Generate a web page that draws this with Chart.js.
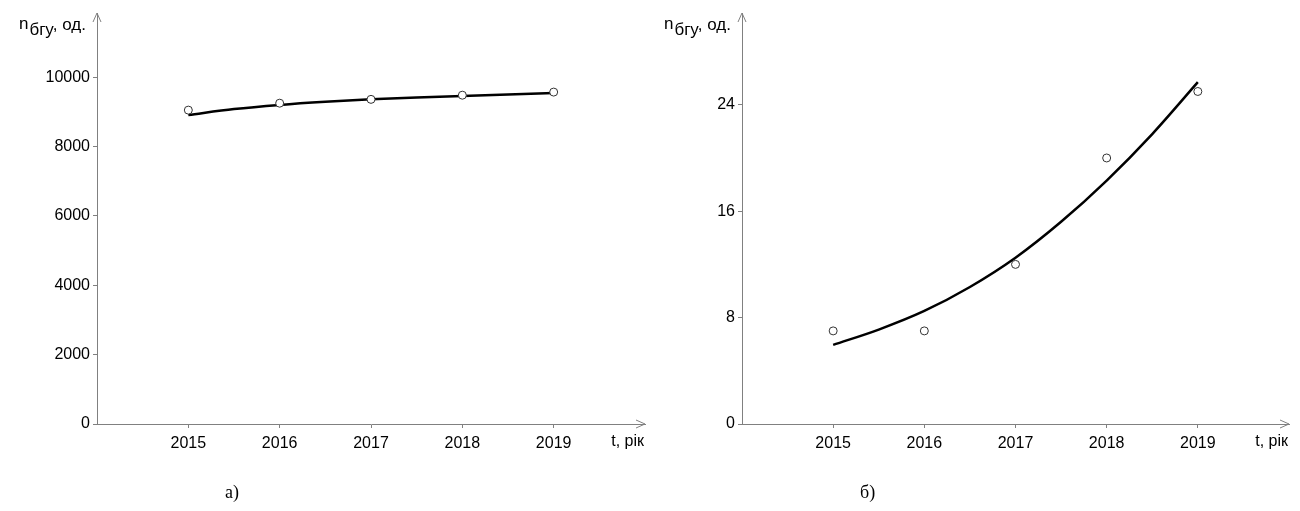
<!DOCTYPE html>
<html>
<head>
<meta charset="utf-8">
<script src="https://cdn.jsdelivr.net/npm/chart.js@4"></script>
<style>
  body { margin: 0; background: #fff; }
  .box { position: absolute; top: 0; width: 650px; height: 511px; }
  .cap { position: absolute; top: 482px; font: 18px "Liberation Serif", "Times New Roman", serif; color: #000; }
</style>
</head>
<body>
<div class="box" style="left:0"><canvas id="chartA"></canvas></div>
<div class="box" style="left:650px"><canvas id="chartB"></canvas></div>
<div class="cap" style="left:225px">а)</div>
<div class="cap" style="left:860px">б)</div>
<script>
const years = [2015, 2016, 2017, 2018, 2019];

// a) points and trend line
const unitsA = [9050, 9250, 9360, 9480, 9570];
const trendYears = [2015, 2015.5, 2016, 2016.5, 2017, 2017.5, 2018, 2018.5, 2019];
const trendA = [8910, 9080, 9200, 9290, 9360, 9415, 9460, 9500, 9540];
const yTicksA = [0, 2000, 4000, 6000, 8000, 10000];

// б) points and trend line
const unitsB = [7, 7, 12, 20, 25];
const trendB = [5.95, 7.1, 8.5, 10.3, 12.5, 15.2, 18.3, 21.8, 25.7];
const yTicksB = [0, 8, 16, 24];

const AXIS = "#808080";
const FONT = "'Liberation Sans', Arial, sans-serif";

const axesDecor = {
  id: "axesDecor",
  afterDraw(chart) {
    const c = chart.ctx, a = chart.chartArea;
    c.save();
    c.strokeStyle = AXIS;
    c.lineWidth = 1;
    c.beginPath();
    c.moveTo(a.left - 4, a.top + 9); c.lineTo(a.left, a.top); c.lineTo(a.left + 4, a.top + 9);
    c.moveTo(a.right - 9, a.bottom - 4); c.lineTo(a.right, a.bottom); c.lineTo(a.right - 9, a.bottom + 4);
    c.stroke();

    // axis titles
    c.fillStyle = "#000";
    c.font = "17px " + FONT;
    c.textBaseline = "alphabetic";
    const w1 = c.measureText("n").width;
    const w2 = c.measureText("бгу").width;
    const w3 = c.measureText(", од.").width;
    let x = a.left - 10 - (w1 + w2 + w3 + 1);
    c.fillText("n", x, 29);
    c.fillText("бгу", x + w1 + 1, 35);
    c.fillText(", од.", x + w1 + w2, 30);

    c.font = "16px " + FONT;
    c.textAlign = "right";
    c.fillText("t, рік", a.right - 1, a.bottom + 22);
    c.restore();
  }
};

function makeChart(id, units, trend, yTicks, yMax, leftW, padRight) {
  return new Chart(document.getElementById(id), {
    type: "scatter",
    data: {
      datasets: [{
        data: years.map((y, i) => ({ x: y, y: units[i] })),
        pointRadius: 4,
        pointBackgroundColor: "#fff",
        pointBorderColor: "#333",
        pointBorderWidth: 1,
        order: 0
      }, {
        data: trendYears.map((y, i) => ({ x: y, y: trend[i] })),
        showLine: true,
        borderColor: "#000",
        borderWidth: 2.5,
        cubicInterpolationMode: "monotone",
        pointRadius: 0,
        order: 1
      }]
    },
    options: {
      responsive: false,
      animation: false,
      layout: { padding: { top: 13, right: padRight, left: 0, bottom: 0 } },
      plugins: { legend: { display: false }, tooltip: { enabled: false } },
      scales: {
        x: {
          type: "linear", min: 2014, max: 2020,
          afterBuildTicks: s => { s.ticks = years.map(v => ({ value: v })); },
          afterFit: s => { s.height = 87; },
          border: { color: AXIS },
          grid: { drawOnChartArea: false, color: AXIS, tickLength: 4 },
          ticks: { color: "#000", font: { family: FONT, size: 16 }, padding: 6, maxRotation: 0, callback: v => String(v) }
        },
        y: {
          min: 0, max: yMax,
          afterBuildTicks: s => { s.ticks = yTicks.map(v => ({ value: v })); },
          afterFit: s => { s.width = leftW; },
          border: { color: AXIS },
          grid: { drawOnChartArea: false, color: AXIS, tickLength: 4 },
          ticks: { color: "#000", font: { family: FONT, size: 16 }, padding: 3, callback: v => String(v) }
        }
      }
    },
    plugins: [axesDecor]
  });
}

document.getElementById("chartA").width = 650;
document.getElementById("chartA").height = 511;
document.getElementById("chartB").width = 650;
document.getElementById("chartB").height = 511;

makeChart("chartA", unitsA, trendA, yTicksA, 11850, 97, 5);
makeChart("chartB", unitsB, trendB, yTicksB, 30.9, 92, 11);
</script>
</body>
</html>
